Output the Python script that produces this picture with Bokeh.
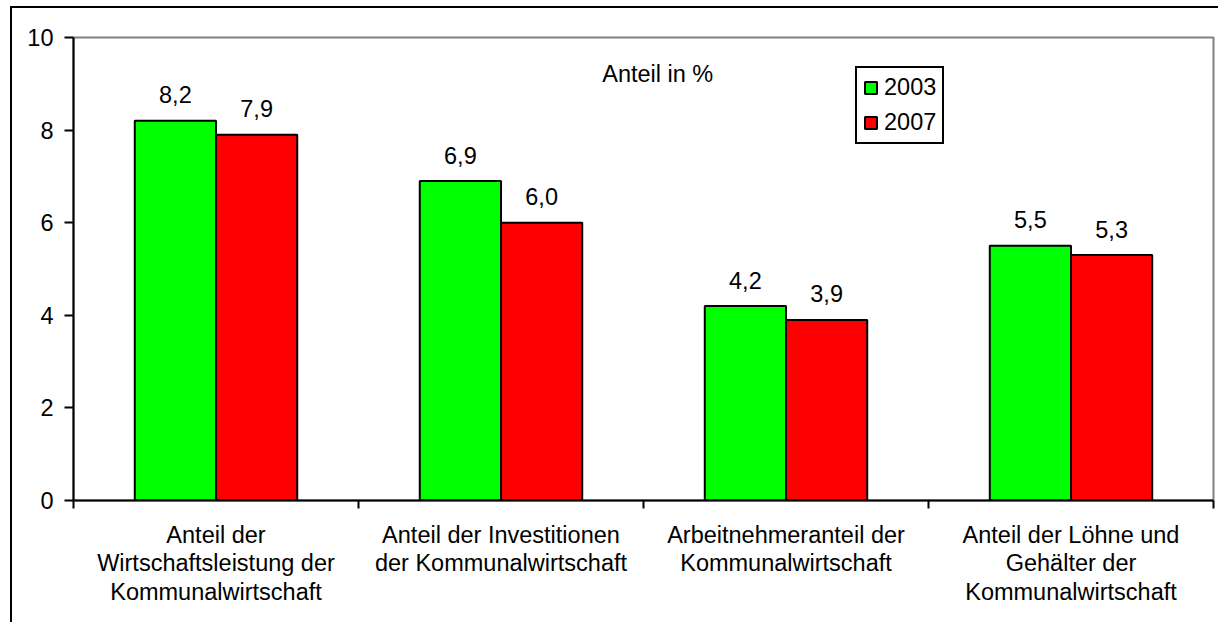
from bokeh.plotting import figure
from bokeh.models import (ColumnDataSource, Range1d, FixedTicker, LinearAxis, Label)
from bokeh.transform import dodge
from bokeh.core.properties import value
from bokeh.embed import file_html
from bokeh.resources import INLINE

# ---- data ----
categories = [
    "Anteil der\nWirtschaftsleistung der\nKommunalwirtschaft",
    "Anteil der Investitionen\nder Kommunalwirtschaft",
    "Arbeitnehmeranteil der\nKommunalwirtschaft",
    "Anteil der Löhne und\nGehälter der\nKommunalwirtschaft",
]
years = ["2003", "2007"]
v2003 = [8.2, 6.9, 4.2, 5.5]
v2007 = [7.9, 6.0, 3.9, 5.3]
y_ticks = [0, 2, 4, 6, 8, 10]
unit_note = "Anteil in %"

# ---- style ----
FONT = "Liberation Sans"
FS = "23.5px"
W = 0.285
GREEN = "#00FF00"
RED = "#FF0000"


def fmt(v):
    return f"{v:.1f}".replace(".", ",")


pos = [i + 0.5 for i in range(len(categories))]
src = ColumnDataSource(dict(
    x=pos, v2003=v2003, v2007=v2007,
    l2003=[fmt(v) for v in v2003], l2007=[fmt(v) for v in v2007],
))

p = figure(width=1208, height=616,
           x_range=Range1d(0, len(categories)), y_range=Range1d(0, 10),
           output_backend="svg", toolbar_location=None,
           x_axis_type=None, y_axis_type=None,
           min_border_left=61, min_border_right=7,
           min_border_top=29, min_border_bottom=124)
p.styles = {"margin-left": "10px", "margin-top": "6px",
            "border-left": "2px solid black", "border-top": "2px solid black"}
p.background_fill_color = "white"
p.border_fill_color = "white"
p.outline_line_color = "#808080"
p.outline_line_width = 2

yaxis = LinearAxis(ticker=FixedTicker(ticks=y_ticks, minor_ticks=[]),
                   axis_line_color="black", axis_line_width=2,
                   major_tick_line_color="black", major_tick_line_width=2,
                   major_tick_out=9, major_tick_in=0,
                   minor_tick_out=0, minor_tick_in=0,
                   major_label_text_font=FONT, major_label_text_font_size=FS,
                   major_label_text_color="black", major_label_standoff=11)
p.add_layout(yaxis, "left")

xaxis = LinearAxis(ticker=FixedTicker(ticks=pos, minor_ticks=list(range(len(categories) + 1))),
                   major_label_overrides={k: c for k, c in zip(pos, categories)},
                   axis_line_color="black", axis_line_width=2,
                   major_tick_line_color=None, major_tick_out=0, major_tick_in=0,
                   minor_tick_line_color="black", minor_tick_line_width=2,
                   minor_tick_out=8, minor_tick_in=0,
                   major_label_text_font=FONT, major_label_text_font_size=FS,
                   major_label_text_line_height=1.1,
                   major_label_text_color="black", major_label_standoff=13)
p.add_layout(xaxis, "below")

p.vbar(x=dodge("x", -W / 2), top="v2003", width=W, source=src,
       fill_color=GREEN, line_color="black", line_width=2, legend_label=years[0])
p.vbar(x=dodge("x", W / 2), top="v2007", width=W, source=src,
       fill_color=RED, line_color="black", line_width=2, legend_label=years[1])

for col, lab, off in (("v2003", "l2003", -W / 2), ("v2007", "l2007", W / 2)):
    p.text(x=dodge("x", off), y=col, text=lab, source=src,
           text_align="center", text_baseline="alphabetic", y_offset=-26,
           text_font=value(FONT), text_font_size=value(FS), text_color="black")

p.add_layout(Label(x=2.05, y=9.22, text=unit_note, text_align="center",
                   text_baseline="alphabetic", text_font=FONT,
                   text_font_size=FS, text_color="black"))

lg = p.legend[0]
lg.location = (782, 356)
lg.border_line_color = "black"
lg.border_line_alpha = 1
lg.border_line_width = 2
lg.background_fill_color = "white"
lg.background_fill_alpha = 1
lg.label_text_font = FONT
lg.label_text_font_size = FS
lg.label_text_color = "black"
lg.glyph_width = 15
lg.glyph_height = 15
lg.label_standoff = 6
lg.padding = 6
lg.spacing = 8
lg.margin = 0

open("out.html", "w").write(file_html(p, INLINE))
